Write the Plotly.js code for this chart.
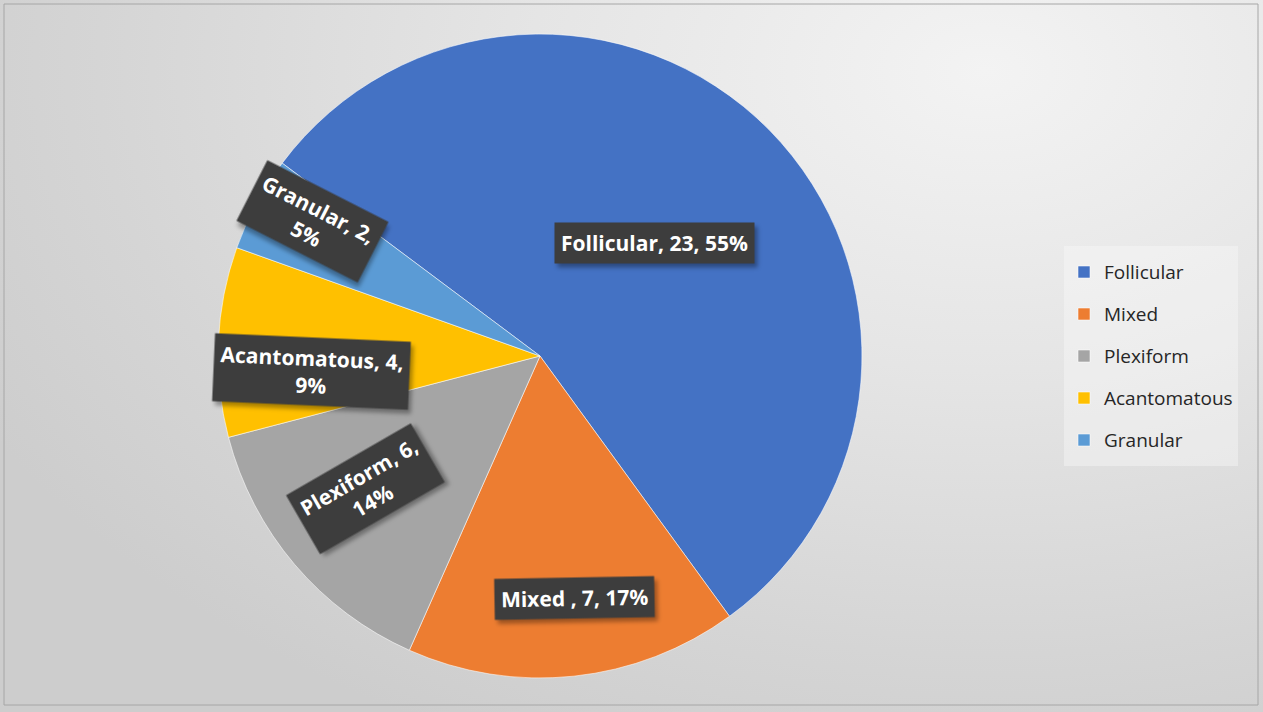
<!DOCTYPE html>
<html>
<head>
<meta charset="utf-8">
<script src="https://cdn.plot.ly/plotly-3.0.1.min.js"></script>
<style>
  html, body { margin: 0; padding: 0; }
  body {
    width: 1263px; height: 712px; overflow: hidden;
    background: radial-gradient(ellipse 90% 105% at 78% 10%, #f3f3f3 0%, #e5e5e5 40%, #d5d5d5 78%, #cdcdcd 100%);
  }
  #chart { width: 1263px; height: 712px; }
  .annotation rect.bg { filter: drop-shadow(3px 4px 2px rgba(0,0,0,0.35)); }
</style>
</head>
<body>
<div id="chart"></div>
<script>
// ---- data ----
const categories = ['Follicular', 'Mixed', 'Plexiform', 'Acantomatous', 'Granular'];
const labelNames = ['Follicular', 'Mixed ', 'Plexiform', 'Acantomatous', 'Granular'];
const counts = [23, 7, 6, 4, 2];
const percentLabels = ['55%', '17%', '14%', '9%', '5%'];
const sliceColors = ['#4472C4', '#ED7D31', '#A5A5A5', '#FFC000', '#5B9BD5'];

// ---- layout / style settings ----
const W = 1263, H = 712;
const rotationDeg = -53.2;
const domainX = [0.1726, 0.6825];
const domainY = [0.0478, 0.9522];
const labelWrap = [false, false, true, true, true];
const labelRadius = [0.50, 0.76, 0.68, 0.71, 0.82];
const labelAngleShift = [0, -2, 3, -6.5, 2.4];
const labelTilt = [0, -1, -30, 2.5, 27];

const trace = {
  type: 'pie',
  labels: categories.map(c => '<span style="font-size:19px;baseline-shift:5px">' + c + '</span>'),
  values: counts,
  sort: false,
  direction: 'clockwise',
  rotation: rotationDeg,
  marker: { colors: sliceColors, line: { color: 'rgba(255,255,255,0.55)', width: 1 } },
  textinfo: 'none',
  hoverinfo: 'none',
  domain: { x: domainX, y: domainY },
  showlegend: true
};

// label positions derived from the slice angles
const total = counts.reduce((a, b) => a + b, 0);
const cx = W * (domainX[0] + domainX[1]) / 2;
const cy = H * (1 - (domainY[0] + domainY[1]) / 2);
const R = Math.min(W * (domainX[1] - domainX[0]), H * (domainY[1] - domainY[0])) / 2;
let cum = 0;
const annotations = [];
counts.forEach((v, i) => {
  const mid = rotationDeg + 360 * (cum + v / 2) / total + labelAngleShift[i];
  cum += v;
  const th = mid * Math.PI / 180;
  const px = cx + labelRadius[i] * R * Math.sin(th);
  const py = cy - labelRadius[i] * R * Math.cos(th);
  const txt = labelNames[i] + ', ' + counts[i] + ',' + (labelWrap[i] ? '<br>' : ' ') + percentLabels[i];
  annotations.push({
    xref: 'paper', yref: 'paper', x: px / W, y: 1 - py / H,
    xanchor: 'center', yanchor: 'middle', showarrow: false,
    text: txt, textangle: labelTilt[i], borderpad: 6, align: 'center',
    bgcolor: '#3d3d3d',
    font: { family: 'Open Sans', size: 21, weight: 700, color: '#ffffff' }
  });
});

const layout = {
  width: W, height: H,
  margin: { l: 0, r: 0, t: 0, b: 0 },
  paper_bgcolor: 'rgba(0,0,0,0)',
  plot_bgcolor: 'rgba(0,0,0,0)',
  showlegend: true,
  legend: {
    x: 1064 / W, xanchor: 'left', y: 1 - 246 / H, yanchor: 'top',
    bgcolor: 'rgba(250,250,250,0.4)', borderwidth: 0,
    font: { family: 'Open Sans', size: 30, color: '#262626' },
    itemwidth: 30, itemclick: false, itemdoubleclick: false
  },
  shapes: [{
    type: 'rect', xref: 'paper', yref: 'paper',
    x0: 4 / W, x1: 1258 / W, y0: 1 - 705 / H, y1: 1 - 4 / H,
    line: { color: '#a6a6a6', width: 1 }, fillcolor: 'rgba(0,0,0,0)', layer: 'below'
  }],
  annotations: annotations
};

Plotly.newPlot('chart', [trace], layout, { displayModeBar: false, staticPlot: true });
</script>
</body>
</html>
